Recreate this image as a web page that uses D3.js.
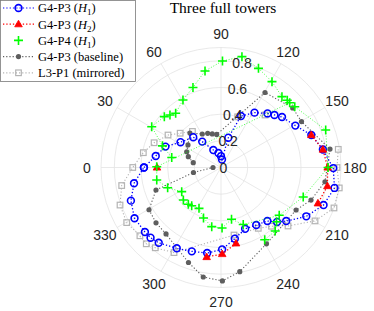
<!DOCTYPE html>
<meta charset="utf-8">
<style>
body { margin: 0; background: #fff; }
svg { display: block; }
.tick { font: 14px "Liberation Sans", Arial, sans-serif; fill: #262626; }
.leg { font: 12.5px "Liberation Serif", "Times New Roman", serif; fill: #000; }
.title { font: 15.5px "Liberation Serif", "Times New Roman", serif; fill: #000; }
</style>
<body>
<script src="https://cdn.jsdelivr.net/npm/d3@7"></script>
<script>

// polar data, theta in degrees (0 = left, clockwise), null = gap
var blueTheta = [0, 10, 20.6, 32, 47.5, 54, 66.3, 80, 90, 97, 103.8, 111.2, 121.4, 130.7, 135.5, 140.4, 150.6, 160.2, 170, 180.3, 190.2, 200.1, 209.8, 219.4, 224.2, 229.1, 238.5, 248.5, 259, 269.2, 279.2, 289.2, 298.7, 309.6, 315.1, 319.7, 329.6, 339.8, 349.7, 360];
var blueR     = [0.578, 0.497, 0.445, 0.358, 0.308, 0.24, 0.143, 0.11, 0.085, 0.06, 0.23, 0.414, 0.482, 0.535, 0.562, 0.594, 0.64, 0.72, 0.776, 0.842, 0.865, 0.819, 0.737, 0.633, 0.586, 0.531, 0.506, 0.494, 0.544, 0.614, 0.65, 0.666, 0.691, 0.733, 0.746, 0.748, 0.752, 0.72, 0.663, 0.578];

var redTheta = [0, null, 160.2, 170, 180, 189.9, 200.3, null, 258.8, 269.2, 279.1];
var redR     = [0.48, null, 0.72, 0.776, 0.80, 0.81, 0.775, null, 0.58, 0.649, 0.68];

var greenTheta = [11.5, 20.3, 30.5, 41.9, 45.8, 50.1, 60.6, 70.7, 80.6, 90.8, 100.7, 110.7, 120.7, 130.7, 134.6, 140.5, 160.3, 180, 199.7, 219.4, 248.7, 258.5, 269, 278.9, 289.1, 298.3, 307.5, 311.6, 319.2, 328.4, 339.2, 349, 360.7, 136.7, null, 224.3, 229.5, 238.8];
var greenR     = [0.377, 0.468, 0.603, 0.571, 0.549, 0.53, 0.581, 0.636, 0.734, 0.799, 0.846, 0.795, 0.749, 0.701, 0.708, 0.717, 0.834, 0.803, 0.655, 0.565, 0.459, 0.396, 0.454, 0.449, 0.401, 0.348, 0.361, 0.369, 0.373, 0.346, 0.428, 0.491, 0.482, 0.708, null, 0.582, 0.626, 0.633];

var grayTheta = [9.8, 18.3, 24.7, 34.3, 48, 60.8, 68.7, 75.4, 82.6, 120.4, 140.3, 150.3, 170.4, 187.8, 199.9, 209.5, 239.2, 259.8, 269.3, 279.2, 288.9, 309.6, 319.6, 329.6, 340.9, 349.7, 360];
var grayR     = [0.211, 0.258, 0.283, 0.30, 0.348, 0.288, 0.275, 0.26, 0.25, 0.652, 0.699, 0.695, 0.829, 0.787, 0.718, 0.647, 0.666, 0.794, 0.851, 0.832, 0.753, 0.647, 0.64, 0.626, 0.516, 0.21, 0.06];

var lgTheta = [171.2, 180, 189.8, 199.7, 209.6, 221.1, 229.3, 238.5, 259.1, 298.9, 309.3, 314.4, 319.9, 329.7, 339.6, 349.7, 360, 10.8, 20.3, 31.5, 40, 51.6, null, 108.2, 130];
var lgR     = [0.89, 0.87, 0.9, 0.9, 0.811, 0.667, 0.581, 0.535, 0.516, 0.729, 0.778, 0.801, 0.795, 0.819, 0.808, 0.757, 0.662, 0.593, 0.535, 0.466, 0.40, 0.345, null, 0.40, 0.514];

var rTicks = [0, 0.2, 0.4, 0.6, 0.8];
var thetaTicks = [0, 30, 60, 90, 120, 150, 180, 210, 240, 270, 300, 330];

// ---------------------------------------------------------------
var W = 374, H = 311, cx = 221, cy = 167.5, R = 120;

var svg = d3.select("body").append("svg")
    .attr("width", W)
    .attr("height", H);

var rad = d3.scaleLinear().domain([0, 0.9]).range([0, R]);
// d3 radial angle: 0 at top, clockwise. theta 0 sits at the left.
var ang = d3.scaleLinear().domain([0, 360]).range([-Math.PI / 2, 1.5 * Math.PI]);

var g = svg.append("g").attr("transform", "translate(" + cx + "," + cy + ")");

// grid
var gridCol = "#e3e3e3";
g.selectAll(".ring")
    .data(rTicks.slice(1).concat([0.9]))
  .enter().append("circle")
    .attr("r", function(d) { return rad(d); })
    .attr("fill", "none")
    .attr("stroke", gridCol)
    .attr("stroke-width", 0.8);

g.selectAll(".spoke")
    .data(thetaTicks)
  .enter().append("line")
    .attr("x1", 0).attr("y1", 0)
    .attr("x2", function(d) { return d3.pointRadial(ang(d), R)[0]; })
    .attr("y2", function(d) { return d3.pointRadial(ang(d), R)[1]; })
    .attr("stroke", gridCol)
    .attr("stroke-width", 0.8);

// theta labels
g.selectAll(".tl")
    .data(thetaTicks)
  .enter().append("text")
    .attr("class", "tick")
    .attr("x", function(d) { return d3.pointRadial(ang(d), R + 14)[0]; })
    .attr("y", function(d) { return d3.pointRadial(ang(d), R + 14)[1]; })
    .attr("dy", "0.36em")
    .attr("text-anchor", "middle")
    .text(function(d) { return d; });

// series
function pts(th, rr) {
  return th.map(function(t, i) { return {t: t, r: rr[i]}; });
}
var line = d3.lineRadial()
    .defined(function(d) { return d.t != null; })
    .angle(function(d) { return ang(d.t); })
    .radius(function(d) { return rad(d.r); });
function xy(d) { return d3.pointRadial(ang(d.t), rad(d.r)); }

var series = [
  {name: "lg",    data: pts(lgTheta, lgR),       col: "#b4b4b4", lw: 1.1, dash: "1.2,2"},
  {name: "gray",  data: pts(grayTheta, grayR),   col: "#5e5e5e", lw: 1.1, dash: "1.2,2"},
  {name: "blue",  data: pts(blueTheta, blueR),   col: "#0000ff", lw: 1.3, dash: "1.3,2"},
  {name: "red",   data: pts(redTheta, redR),     col: "#ff0000", lw: 1.3, dash: "1.3,2"},
  {name: "green", data: pts(greenTheta, greenR), col: "#00ff00", lw: 0.7, dash: "1,1.8"}
];

function marker(sel, name, col) {
  if (name == "blue") {
    sel.append("circle").attr("r", 3.4).attr("fill", "none").attr("stroke", col).attr("stroke-width", 1.6);
  } else if (name == "red") {
    sel.append("path").attr("d", "M0,-4L3.8,2.6L-3.8,2.6Z").attr("fill", col).attr("stroke", col).attr("stroke-width", 0.8);
  } else if (name == "green") {
    sel.append("path").attr("d", "M-4.5,0H4.5M0,-4.5V4.5").attr("stroke", col).attr("stroke-width", 1.6);
  } else if (name == "gray") {
    sel.append("circle").attr("r", 2.6).attr("fill", col);
  } else {
    sel.append("rect").attr("x", -2.8).attr("y", -2.8).attr("width", 5.6).attr("height", 5.6)
      .attr("fill", "none").attr("stroke", col).attr("stroke-width", 1.2);
  }
}

series.forEach(function(s) {
  g.append("path")
      .attr("d", line(s.data))
      .attr("fill", "none")
      .attr("stroke", s.col)
      .attr("stroke-width", s.lw)
      .attr("stroke-dasharray", s.dash);
  g.selectAll(".m-" + s.name)
      .data(s.data.filter(function(d) { return d.t != null; }))
    .enter().append("g")
      .attr("transform", function(d) { return "translate(" + xy(d) + ")"; })
      .each(function() { marker(d3.select(this), s.name, s.col); });
});

// radial tick labels along the 100 degree direction
g.selectAll(".rl")
    .data(rTicks)
  .enter().append("text")
    .attr("class", "tick")
    .attr("x", function(d) { return d3.pointRadial(ang(100), rad(d))[0] + 2.5; })
    .attr("y", function(d) { return d3.pointRadial(ang(100), rad(d))[1]; })
    .attr("dy", "0.36em")
    .attr("text-anchor", "middle")
    .text(function(d) { return d; });

// title
svg.append("text")
    .attr("class", "title")
    .attr("x", 223)
    .attr("y", 13)
    .attr("text-anchor", "middle")
    .text("Three full towers");

// legend
var legItems = [
  {name: "blue",  col: "#0000ff", dash: "1.3,2", txt: ["G4-P3 (", "H", "1", ")"]},
  {name: "red",   col: "#ff0000", dash: "1.3,2", txt: ["G4-P3 (", "H", "2", ")"]},
  {name: "green", col: "#00ff00", dash: null,    txt: ["G4-P4 (", "H", "1", ")"]},
  {name: "gray",  col: "#5e5e5e", dash: "1.2,2", txt: ["G4-P3 (baseline)"]},
  {name: "lg",    col: "#b4b4b4", dash: "1.2,2", txt: ["L3-P1 (mirrored)"]}
];

var leg = svg.append("g");
leg.append("rect")
    .attr("x", 0.5).attr("y", 0.5)
    .attr("width", 135).attr("height", 81)
    .attr("fill", "#fff")
    .attr("stroke", "#7a7a7a")
    .attr("stroke-width", 0.8);

var li = leg.selectAll(".li")
    .data(legItems)
  .enter().append("g")
    .attr("transform", function(d, i) { return "translate(0," + (8 + i * 16.2) + ")"; });

li.filter(function(d) { return d.dash; }).append("line")
    .attr("x1", 3).attr("x2", 34)
    .attr("stroke", function(d) { return d.col; })
    .attr("stroke-width", 1.2)
    .attr("stroke-dasharray", function(d) { return d.dash; });

li.append("g")
    .attr("transform", "translate(18.5,0)")
    .each(function(d) { marker(d3.select(this), d.name, d.col); });

var lt = li.append("text")
    .attr("class", "leg")
    .attr("x", 38)
    .attr("dy", "0.35em");
lt.each(function(d) {
  var t = d3.select(this);
  t.append("tspan").text(d.txt[0]);
  if (d.txt.length > 1) {
    t.append("tspan").attr("font-style", "italic").text(d.txt[1]);
    t.append("tspan").attr("font-size", "9px").attr("dy", "3").text(d.txt[2]);
    t.append("tspan").attr("dy", "-3").text(d.txt[3]);
  }
});

</script>
</body>
